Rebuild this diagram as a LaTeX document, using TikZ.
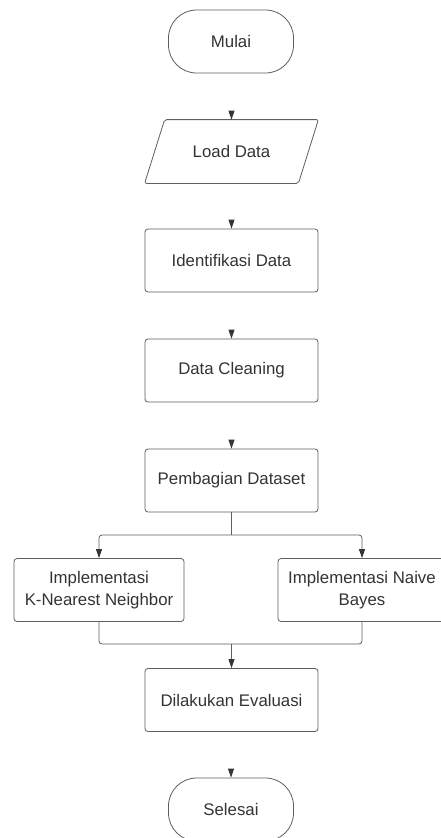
\documentclass[tikz,border=0pt]{standalone}
\usepackage{fontspec}
\setmainfont{Liberation Sans}
\usetikzlibrary{arrows.meta,calc}
\definecolor{ln}{HTML}{5E5E5E}
\definecolor{tx}{HTML}{333333}
\definecolor{ah}{HTML}{2F3640}
\begin{document}
\begin{tikzpicture}[x=1pt,y=-1pt,
  box/.style={draw=ln, line width=0.8pt, rounded corners=3pt, minimum width=173pt, minimum height=63pt, align=center, text=tx, font=\fontsize{16.8}{21.5}\selectfont, inner sep=0pt},
  term/.style={box, rounded corners=28pt, minimum width=125pt},
  txtonly/.style={box, draw=none},
  conn/.style={draw=ln, line width=0.8pt},
  tip/.style={conn, -{Triangle[length=9pt,width=6pt,color=ah]}}]
\useasboundingbox (0,0) rectangle (440,838);
\node[term] (mulai) at (231,41.5) {Mulai};
\node[txtonly] (load) at (231.5,151.5) {Load Data};
\draw[conn, rounded corners=2pt] ([xshift=20pt]load.north west) -- (load.north east) -- ([xshift=-20pt]load.south east) -- (load.south west) -- cycle;
\node[box] (ident) at (231.5,260.5) {Identifikasi Data};
\node[box] (clean) at (231.5,370.5) {Data Cleaning};
\node[box] (pemb) at (231.5,480.5) {Pembagian Dataset};
\node[box, minimum width=170pt] (knn) at (99,590) {Implementasi\\K-Nearest Neighbor};
\node[box, minimum width=168pt] (nb) at (362,590) {Implementasi Naive\\Bayes};
\node[box] (eval) at (231.5,700) {Dilakukan Evaluasi};
\node[term] (selesai) at (231,809.5) {Selesai};
% arrowheads only (connector shafts not shown)
\coordinate (c1) at ([yshift=9pt]load.north);
\coordinate (c2) at ([yshift=9pt]ident.north);
\coordinate (c3) at ([yshift=9pt]clean.north);
\coordinate (c4) at ([yshift=9pt]pemb.north);
\coordinate (c5) at ([yshift=9pt]selesai.north);
\draw[tip] (c1) -- (load.north);
\draw[tip] (c2) -- (ident.north);
\draw[tip] (c3) -- (clean.north);
\draw[tip] (c4) -- (pemb.north);
\draw[tip] (c5) -- (selesai.north);
% branch
\coordinate (br) at (231.5,535);
\draw[conn] (pemb.south) -- (br);
\draw[tip, rounded corners=3pt] (br) -| (knn.north);
\draw[tip, rounded corners=3pt] (br) -| (nb.north);
% merge
\coordinate (mg) at (231.5,644);
\draw[conn, rounded corners=3pt] (knn.south) |- (mg);
\draw[conn, rounded corners=3pt] (nb.south) |- (mg);
\draw[tip] (mg) -- (eval.north);
\end{tikzpicture}
\end{document}
